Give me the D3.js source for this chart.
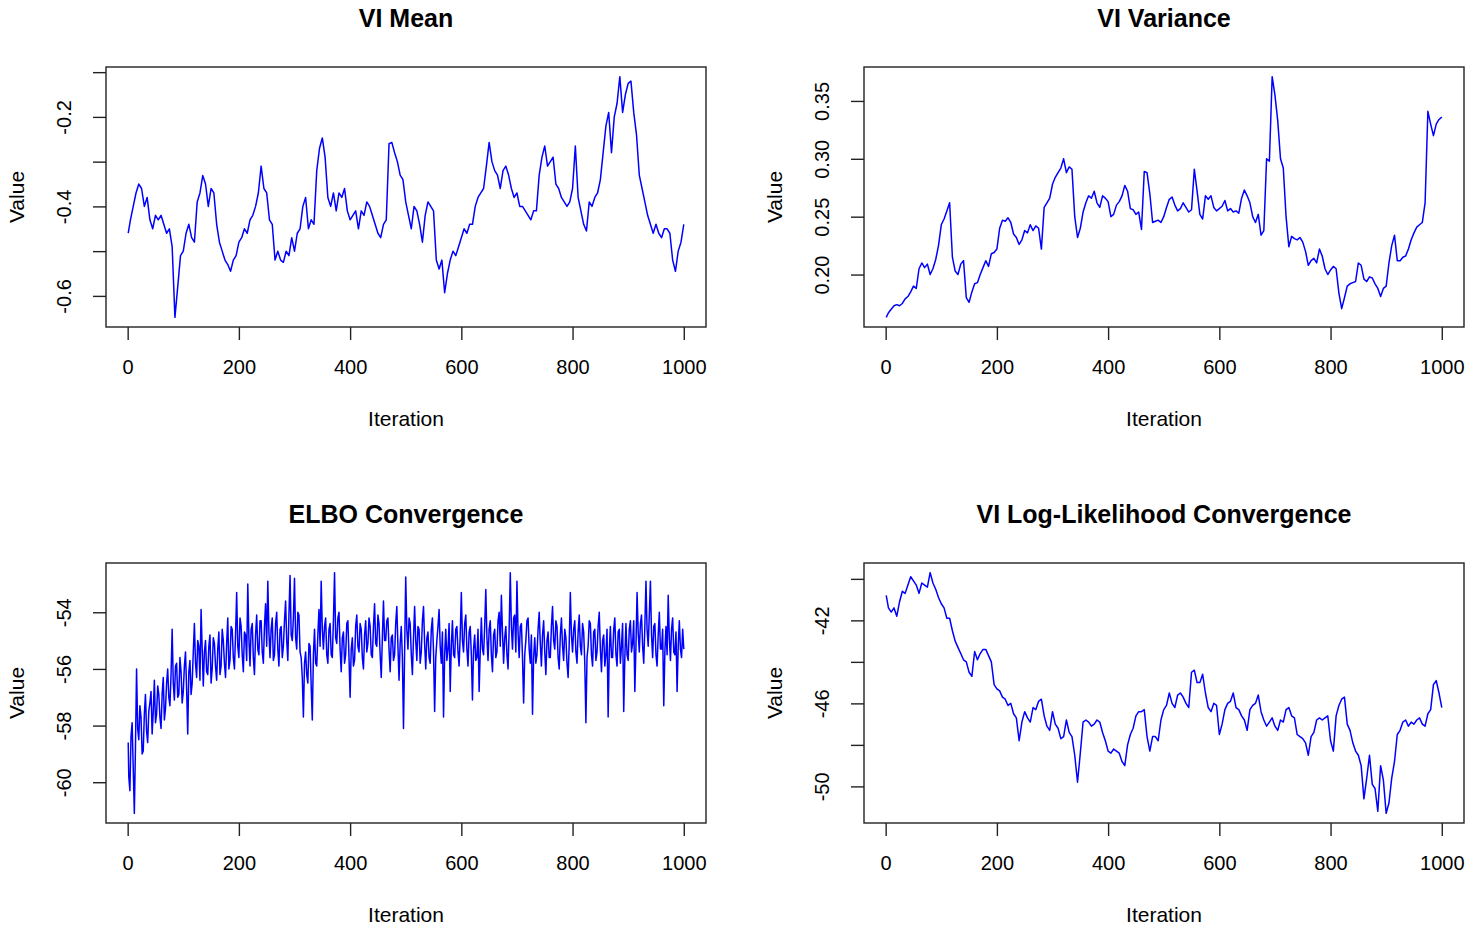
<!DOCTYPE html>
<html>
<head>
<meta charset="utf-8">
<script src="https://cdn.jsdelivr.net/npm/d3@7"></script>
<style>
body{margin:0;background:#fff;}
text{font-family:"Liberation Sans", Arial, sans-serif;fill:#000;}
</style>
</head>
<body>
<div id="chart"></div>
<script>
const iter5 = [1].concat(d3.range(5, 1001, 5));
const iter2 = [1].concat(d3.range(2, 1001, 2));

const viMean = [
 -0.46,-0.43,-0.40,-0.37,-0.35,-0.36,-0.40,-0.38,-0.43,-0.45,-0.42,-0.43,-0.42,-0.44,-0.46,-0.45,-0.49,-0.648,-0.58,-0.51,
 -0.50,-0.46,-0.44,-0.47,-0.48,-0.39,-0.37,-0.331,-0.35,-0.40,-0.36,-0.37,-0.44,-0.48,-0.50,-0.52,-0.53,-0.545,-0.52,-0.51,
 -0.48,-0.47,-0.45,-0.46,-0.43,-0.42,-0.40,-0.37,-0.31,-0.36,-0.37,-0.43,-0.44,-0.52,-0.50,-0.52,-0.525,-0.50,-0.51,-0.47,
 -0.50,-0.46,-0.45,-0.40,-0.38,-0.45,-0.43,-0.44,-0.32,-0.27,-0.247,-0.29,-0.38,-0.40,-0.37,-0.41,-0.37,-0.38,-0.36,-0.41,
 -0.43,-0.42,-0.41,-0.45,-0.41,-0.42,-0.39,-0.40,-0.42,-0.44,-0.46,-0.47,-0.44,-0.43,-0.26,-0.257,-0.28,-0.30,-0.33,-0.34,
 -0.39,-0.42,-0.45,-0.40,-0.41,-0.44,-0.48,-0.42,-0.39,-0.40,-0.41,-0.52,-0.54,-0.52,-0.593,-0.55,-0.52,-0.50,-0.51,-0.49,
 -0.47,-0.45,-0.46,-0.44,-0.44,-0.40,-0.38,-0.37,-0.36,-0.31,-0.257,-0.30,-0.32,-0.33,-0.36,-0.32,-0.31,-0.33,-0.36,-0.38,
 -0.37,-0.40,-0.40,-0.41,-0.42,-0.43,-0.41,-0.41,-0.33,-0.29,-0.265,-0.31,-0.30,-0.29,-0.35,-0.36,-0.38,-0.39,-0.40,-0.39,
 -0.36,-0.265,-0.38,-0.41,-0.44,-0.455,-0.39,-0.40,-0.38,-0.37,-0.34,-0.28,-0.22,-0.19,-0.28,-0.20,-0.17,-0.110,-0.19,-0.15,
 -0.125,-0.12,-0.19,-0.24,-0.33,-0.36,-0.39,-0.42,-0.44,-0.46,-0.44,-0.46,-0.47,-0.45,-0.45,-0.46,-0.52,-0.545,-0.50,-0.48,
 -0.44
];

const viVariance = [
 0.163,0.167,0.170,0.173,0.174,0.173,0.175,0.179,0.181,0.185,0.190,0.188,0.205,0.210,0.206,0.209,0.200,0.205,0.213,0.225,
 0.243,0.248,0.255,0.262,0.215,0.203,0.200,0.209,0.212,0.180,0.176,0.185,0.192,0.193,0.200,0.206,0.212,0.207,0.218,0.219,
 0.222,0.240,0.247,0.246,0.249,0.245,0.235,0.232,0.226,0.230,0.238,0.236,0.243,0.238,0.242,0.240,0.222,0.258,0.262,0.266,
 0.278,0.284,0.288,0.292,0.300,0.288,0.293,0.291,0.250,0.232,0.240,0.254,0.262,0.268,0.266,0.272,0.262,0.258,0.268,0.266,
 0.263,0.250,0.252,0.260,0.263,0.268,0.277,0.272,0.257,0.256,0.252,0.254,0.239,0.289,0.288,0.270,0.245,0.246,0.247,0.245,
 0.250,0.258,0.265,0.267,0.260,0.255,0.257,0.262,0.258,0.254,0.256,0.291,0.272,0.252,0.248,0.268,0.265,0.268,0.258,0.255,
 0.257,0.259,0.264,0.255,0.257,0.254,0.255,0.253,0.266,0.273,0.268,0.262,0.250,0.245,0.252,0.234,0.238,0.300,0.298,0.371,
 0.355,0.333,0.300,0.292,0.250,0.224,0.233,0.231,0.230,0.232,0.228,0.220,0.208,0.212,0.214,0.210,0.222,0.216,0.205,0.200,
 0.204,0.207,0.205,0.184,0.1705,0.180,0.190,0.192,0.193,0.194,0.210,0.208,0.196,0.194,0.198,0.197,0.192,0.188,0.181,0.188,
 0.190,0.210,0.225,0.234,0.212,0.212,0.215,0.216,0.222,0.230,0.236,0.241,0.243,0.245,0.262,0.341,0.330,0.320,0.330,0.334,
 0.336
];

const elbo = [
 -58.6,-59.8,-60.3,-58.4,-57.9,-59.5,-61.1,-58.8,-56.0,-58.1,-58.5,-57.3,-57.7,-59.0,-58.9,-57.6,-56.9,-58.2,-58.6,-57.5,
 -57.2,-56.8,-58.3,-57.5,-56.4,-57.9,-57.6,-56.6,-56.9,-57.7,-58.1,-56.9,-56.3,-57.8,-57.4,-56.5,-56.0,-57.0,-57.3,-56.2,
 -54.6,-56.5,-57.1,-55.9,-55.8,-57.0,-56.9,-55.6,-56.1,-57.2,-56.8,-55.9,-55.4,-56.7,-58.3,-56.1,-55.7,-56.9,-56.5,-55.4,
 -54.4,-55.8,-56.3,-55.0,-55.2,-56.4,-53.9,-55.3,-56.6,-55.4,-55.0,-56.1,-56.2,-55.2,-54.8,-56.5,-56.0,-54.9,-55.1,-55.9,
 -56.4,-55.3,-54.7,-56.2,-55.9,-54.6,-55.0,-55.8,-56.3,-55.1,-54.2,-56.0,-55.7,-54.5,-54.6,-55.6,-56.0,-54.8,-53.3,-55.2,
 -55.6,-54.2,-54.5,-55.5,-56.1,-54.7,-54.8,-55.7,-53.0,-54.9,-55.9,-54.6,-54.4,-55.6,-56.2,-54.8,-54.1,-55.3,-55.5,-54.3,
 -54.3,-55.4,-55.8,-54.5,-53.7,-55.2,-52.9,-54.7,-55.6,-54.6,-54.2,-55.7,-55.5,-54.4,-54.0,-55.3,-55.9,-54.6,-54.5,-55.6,
 -55.2,-54.3,-53.6,-55.0,-55.7,-54.1,-52.7,-54.8,-55.0,-54.2,-52.8,-54.9,-55.3,-54.0,-54.1,-55.4,-55.6,-56.3,-57.7,-55.8,
 -55.4,-56.2,-56.5,-55.1,-55.2,-56.6,-57.8,-55.5,-54.6,-55.8,-55.9,-54.8,-53.9,-55.2,-52.9,-54.6,-55.3,-54.5,-54.2,-55.5,
 -55.8,-54.6,-54.4,-55.5,-55.6,-54.3,-52.6,-54.9,-55.1,-54.2,-54.0,-55.3,-56.1,-54.9,-54.7,-55.8,-55.5,-54.4,-54.3,-55.6,
 -57.0,-55.3,-54.9,-55.9,-55.7,-54.5,-54.1,-55.2,-55.4,-54.4,-54.6,-55.6,-56.0,-54.8,-54.3,-55.4,-55.1,-54.2,-54.5,-55.5,
 -55.6,-54.5,-53.7,-55.1,-55.2,-54.1,-54.4,-55.5,-56.3,-54.9,-53.6,-55.0,-55.0,-54.3,-54.2,-55.3,-56.1,-54.9,-54.8,-55.7,
 -55.5,-54.4,-53.8,-55.2,-56.4,-55.1,-54.5,-55.6,-58.1,-55.4,-52.75,-54.6,-55.3,-54.2,-54.4,-55.5,-56.2,-54.9,-53.8,-55.0,
 -55.7,-54.5,-54.6,-55.8,-55.4,-54.3,-53.8,-55.1,-56.0,-54.9,-54.7,-55.6,-55.8,-54.6,-54.2,-55.4,-57.5,-55.6,-55.0,-54.5,
 -53.9,-55.2,-55.8,-54.7,-57.7,-55.5,-54.6,-55.7,-55.3,-54.4,-56.8,-55.2,-54.3,-55.5,-55.6,-54.6,-54.5,-55.4,-55.9,-54.8,
 -53.3,-55.0,-55.4,-54.4,-54.1,-55.3,-55.9,-54.7,-54.5,-55.5,-57.1,-55.3,-54.8,-55.7,-55.6,-54.6,-56.8,-55.4,-54.2,-55.3,
 -55.5,-54.5,-53.2,-54.9,-55.7,-54.6,-54.3,-55.5,-56.1,-54.8,-54.6,-55.6,-55.4,-54.3,-54.0,-55.2,-53.4,-54.7,-55.8,-54.9,
 -54.5,-55.5,-56.0,-54.6,-52.6,-54.5,-55.3,-54.2,-54.1,-55.4,-52.9,-54.7,-55.6,-54.5,-54.4,-55.6,-57.2,-55.5,-55.0,-54.3,
 -54.2,-55.3,-55.8,-54.8,-57.6,-55.6,-54.9,-55.8,-55.5,-54.6,-54.0,-55.1,-55.9,-54.8,-54.3,-55.4,-56.2,-55.0,-54.7,-55.6,
 -55.6,-54.5,-53.8,-55.0,-55.3,-54.3,-54.5,-55.6,-56.0,-54.8,-54.2,-55.2,-55.7,-54.6,-54.9,-55.8,-56.3,-55.1,-53.3,-54.8,
 -55.4,-54.6,-54.3,-55.4,-55.8,-54.7,-54.1,-55.2,-55.5,-54.4,-54.7,-55.8,-57.9,-55.6,-55.2,-54.3,-54.4,-55.5,-55.9,-54.7,
 -54.6,-55.7,-55.4,-54.5,-54.0,-55.3,-56.1,-55.0,-54.8,-55.9,-55.5,-54.6,-57.7,-55.4,-54.5,-55.6,-55.6,-54.6,-54.2,-55.5,
 -55.9,-54.7,-54.6,-55.8,-55.2,-54.4,-57.5,-55.6,-54.4,-55.5,-55.7,-54.6,-54.3,-55.4,-55.1,-54.3,-56.8,-55.2,-53.3,-54.7,
 -55.4,-54.4,-54.1,-55.2,-55.8,-54.5,-52.9,-54.6,-55.2,-54.1,-52.9,-54.8,-55.6,-54.5,-54.4,-55.5,-55.9,-54.8,-54.0,-55.3,
 -55.3,-54.6,-57.3,-55.4,-54.5,-55.5,-53.4,-54.9,-55.7,-54.6,-54.2,-55.4,-55.5,-54.7,-56.8,-55.2,-54.3,-55.3,-55.6,-54.6,
 -55.3
];

const logLik = [
 -40.8,-41.4,-41.6,-41.4,-41.8,-41.1,-40.6,-40.7,-40.3,-39.9,-40.1,-40.3,-40.7,-40.2,-40.3,-40.4,-39.7,-40.2,-40.5,-40.9,
 -41.2,-41.4,-41.9,-41.9,-42.5,-43.0,-43.3,-43.6,-43.9,-44.0,-44.5,-44.7,-43.5,-43.9,-43.6,-43.4,-43.4,-43.7,-44.0,-45.1,
 -45.3,-45.4,-45.7,-45.8,-46.1,-46.0,-46.5,-46.7,-47.8,-46.9,-46.4,-46.7,-46.9,-46.2,-46.3,-45.9,-45.8,-46.6,-47.1,-47.3,
 -46.4,-47.0,-47.2,-47.7,-47.6,-46.8,-47.4,-47.6,-48.5,-49.8,-48.4,-46.9,-46.8,-46.9,-47.1,-47.0,-46.8,-46.9,-47.4,-47.8,
 -48.3,-48.4,-48.2,-48.3,-48.4,-48.8,-49.0,-48.0,-47.5,-47.2,-46.6,-46.4,-46.4,-46.3,-47.6,-48.3,-47.6,-47.6,-47.8,-46.8,
 -46.3,-46.1,-45.5,-46.0,-46.2,-45.6,-45.5,-45.7,-46.0,-46.2,-44.5,-44.4,-45.0,-45.0,-44.6,-45.5,-46.2,-46.4,-46.0,-46.1,
 -47.5,-47.0,-46.3,-46.0,-45.9,-45.5,-46.2,-46.3,-46.6,-46.8,-47.3,-46.3,-46.1,-46.0,-45.6,-46.4,-46.8,-47.1,-46.9,-46.7,
 -47.1,-47.3,-46.8,-46.9,-46.3,-46.2,-46.6,-46.7,-47.5,-47.6,-47.7,-47.9,-48.5,-47.6,-47.4,-46.8,-46.7,-46.8,-46.7,-46.6,
 -47.8,-48.3,-46.6,-46.1,-45.8,-45.7,-47.0,-47.3,-47.9,-48.3,-48.5,-49.0,-50.6,-49.6,-48.5,-49.9,-50.1,-51.2,-49.0,-49.7,
 -51.3,-50.8,-49.6,-48.8,-47.5,-47.3,-46.9,-46.8,-47.1,-46.9,-47.0,-46.8,-46.7,-47.0,-47.1,-46.5,-46.3,-45.1,-44.9,-45.5,
 -46.2
];

const xTicks = [0, 200, 400, 600, 800, 1000];
const meanTicks = [-0.6, -0.5, -0.4, -0.3, -0.2, -0.1];
const meanLabels = [-0.6, -0.4, -0.2];
const varTicks = [0.20, 0.25, 0.30, 0.35];
const varLabels = [0.20, 0.25, 0.30, 0.35];
const elboTicks = [-60, -58, -56, -54];
const elboLabels = [-60, -58, -56, -54];
const llTicks = [-50, -48, -46, -44, -42, -40];
const llLabels = [-50, -46, -42];

const titles = ["VI Mean", "VI Variance", "ELBO Convergence", "VI Log-Likelihood Convergence"];

const W = 1481, H = 927;
const boxW = 600, boxH = 260;

const svg = d3.select("#chart").append("svg")
    .attr("width", W)
    .attr("height", H);

function drawPanel(p){
    const g = svg.append("g").attr("transform", `translate(${p.left},${p.top})`);

    // R style range: data extent padded by 4%
    const xe = d3.extent(p.iters), ye = d3.extent(p.vals);
    const xp = (xe[1] - xe[0]) * 0.04, yp = (ye[1] - ye[0]) * 0.04;
    const x = d3.scaleLinear().domain([xe[0] - xp, xe[1] + xp]).range([0, boxW]);
    const y = d3.scaleLinear().domain([ye[0] - yp, ye[1] + yp]).range([boxH, 0]);

    const line = d3.line()
        .x((d, i) => x(p.iters[i]))
        .y(d => y(d));

    g.append("path")
        .datum(p.vals)
        .attr("fill", "none")
        .attr("stroke", "#0000ff")
        .attr("stroke-width", p.lw)
        .attr("stroke-linejoin", "round")
        .attr("d", line);

    g.append("rect")
        .attr("width", boxW)
        .attr("height", boxH)
        .attr("fill", "none")
        .attr("stroke", "#222")
        .attr("stroke-width", 1.4);

    // x axis
    const xAxis = d3.axisBottom(x)
        .tickValues(xTicks)
        .tickSize(13)
        .tickPadding(20)
        .tickFormat(d => String(d));
    g.append("g")
        .attr("transform", `translate(0,${boxH})`)
        .attr("color", "#222")
        .call(xAxis)
        .call(a => a.select(".domain").remove())
        .call(a => a.selectAll("line").attr("stroke-width", 1.4))
        .call(a => a.selectAll("text")
            .attr("font-size", 20)
            .attr("font-family", "Liberation Sans, Arial, sans-serif")
            .attr("fill", "#000"));

    // y axis, labels parallel to the axis
    const yAxis = d3.axisLeft(y)
        .tickValues(p.ticks)
        .tickSize(13)
        .tickFormat(d => p.labels.includes(d) ? p.fmt(d) : "");
    g.append("g")
        .attr("color", "#222")
        .call(yAxis)
        .call(a => a.select(".domain").remove())
        .call(a => a.selectAll("line").attr("stroke-width", 1.4))
        .call(a => a.selectAll("text")
            .attr("transform", "rotate(-90)")
            .attr("x", 0)
            .attr("y", -35)
            .attr("dy", 0)
            .attr("text-anchor", "middle")
            .attr("font-size", 20)
            .attr("font-family", "Liberation Sans, Arial, sans-serif")
            .attr("fill", "#000"));

    g.append("text")
        .attr("x", boxW / 2)
        .attr("y", -40)
        .attr("text-anchor", "middle")
        .attr("font-size", 25)
        .attr("font-weight", "bold")
        .text(p.title);

    g.append("text")
        .attr("x", boxW / 2)
        .attr("y", boxH + 99)
        .attr("text-anchor", "middle")
        .attr("font-size", 21)
        .text("Iteration");

    g.append("text")
        .attr("transform", `translate(-82,${boxH / 2}) rotate(-90)`)
        .attr("text-anchor", "middle")
        .attr("font-size", 21)
        .text("Value");
}

const panels = [
    {title: titles[0], left: 106, top: 67, iters: iter5, vals: viMean, lw: 1.5, ticks: meanTicks, labels: meanLabels, fmt: d => d.toFixed(1)},
    {title: titles[1], left: 864, top: 67, iters: iter5, vals: viVariance, lw: 1.5, ticks: varTicks, labels: varLabels, fmt: d => d.toFixed(2)},
    {title: titles[2], left: 106, top: 563, iters: iter2, vals: elbo, lw: 1.5, ticks: elboTicks, labels: elboLabels, fmt: d => String(d)},
    {title: titles[3], left: 864, top: 563, iters: iter5, vals: logLik, lw: 1.5, ticks: llTicks, labels: llLabels, fmt: d => String(d)}
];

panels.forEach(drawPanel);
</script>
</body>
</html>
